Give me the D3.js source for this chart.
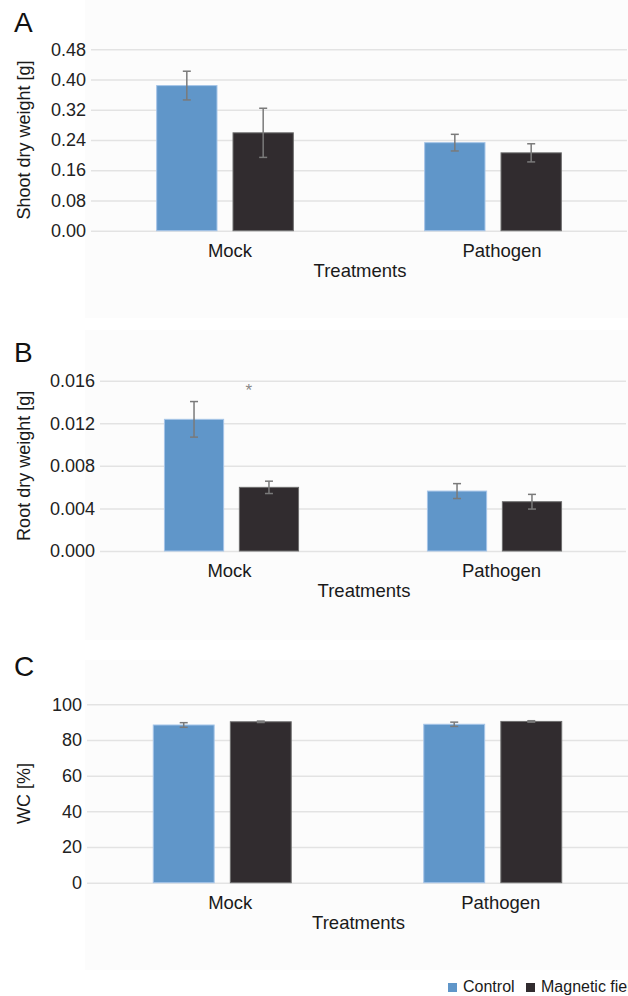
<!DOCTYPE html>
<html>
<head>
<meta charset="utf-8">
<script src="https://cdn.jsdelivr.net/npm/d3@7"></script>
<style>
  html, body { margin: 0; padding: 0; background: #fff; }
  svg { display: block; font-family: Arial, "Liberation Sans", sans-serif; }
</style>
</head>
<body>
<svg id="chart"></svg>
<script>
// data
const treatments = ['Mock', 'Pathogen'];
const groups = ['Control', 'Magnetic field'];

const shootMean = [[0.384, 0.259], [0.233, 0.206]];
const shootErr = [[0.038, 0.065], [0.022, 0.024]];
const shootTicks = [0, 0.08, 0.16, 0.24, 0.32, 0.40, 0.48];

const rootMean = [[0.01237, 0.00598], [0.00563, 0.00463]];
const rootErr = [[0.00167, 0.00058], [0.0007, 0.00069]];
const rootTicks = [0, 0.004, 0.008, 0.012, 0.016];

const wcMean = [[88.4, 90.2], [88.8, 90.4]];
const wcErr = [[1.3, 0.4], [1.2, 0.4]];
const wcTicks = [0, 20, 40, 60, 80, 100];

// significance marks: panel B, Mock, Magnetic field
const rootStars = [{ treatment: 'Mock', value: 0.0155, label: '*' }];

const colors = { 'Control': '#6096c9', 'Magnetic field': '#312c2f' };
const strokes = { 'Control': '#a6c5e8', 'Magnetic field': '#6e6e6e' };

const width = 628, height = 996;
const svg = d3.select('#chart').attr('width', width).attr('height', height);

// panel layouts (pixel boxes of each plot area)
const panels = [
  { letter: 'A', letterY: 32, left: 91, right: 627, top: 49.3, bottom: 230.7, bgTop: 0, bgBottom: 318,
    mean: shootMean, err: shootErr, ticks: shootTicks, fmt: d3.format('.2f'), labelShift: [5, 9],
    ylabel: 'Shoot dry weight [g]', stars: [] },
  { letter: 'B', letterY: 361.5, left: 100, right: 626, top: 380.7, bottom: 551, bgTop: 330, bgBottom: 640,
    mean: rootMean, err: rootErr, ticks: rootTicks, fmt: d3.format('.3f'), labelShift: [-2, 7],
    ylabel: 'Root dry weight [g]', stars: rootStars },
  { letter: 'C', letterY: 675.5, left: 87, right: 628, top: 704.3, bottom: 882.7, bgTop: 660, bgBottom: 970,
    mean: wcMean, err: wcErr, ticks: wcTicks, fmt: d3.format('d'), labelShift: [8, 8],
    ylabel: 'WC [%]', stars: [] }
];

panels.forEach(p => drawPanel(p));
drawLegend();

function drawPanel(p) {
  const g = svg.append('g');

  // faint plot-area background
  g.append('rect')
    .attr('x', 85).attr('y', p.bgTop)
    .attr('width', width - 85).attr('height', p.bgBottom - p.bgTop)
    .attr('fill', '#fcfcfc');

  const x = d3.scaleBand()
    .domain(treatments)
    .range([p.left, p.right])
    .paddingInner(0.49)
    .paddingOuter(0.245);

  const xSub = d3.scaleBand()
    .domain(groups)
    .range([0, x.bandwidth()])
    .paddingInner(0.21);

  const y = d3.scaleLinear()
    .domain([0, d3.max(p.ticks)])
    .range([p.bottom, p.top]);

  // gridlines + tick labels
  const yAxis = g.append('g')
    .attr('transform', `translate(${p.left},0)`)
    .call(d3.axisLeft(y).tickValues(p.ticks).tickFormat(p.fmt).tickSize(0).tickPadding(5));
  yAxis.select('.domain').remove();
  yAxis.selectAll('.tick line')
    .attr('x2', p.right - p.left)
    .attr('stroke', '#e3e3e3')
    .attr('stroke-width', 1.5);
  yAxis.selectAll('.tick text')
    .attr('fill', '#222')
    .style('font-size', '18px');

  // bars
  const rows = [];
  treatments.forEach((t, i) => groups.forEach((s, j) => {
    rows.push({ treatment: t, group: s, value: p.mean[i][j], err: p.err[i][j] });
  }));

  g.selectAll('rect.bar')
    .data(rows)
    .join('rect')
    .attr('class', 'bar')
    .attr('x', d => x(d.treatment) + xSub(d.group))
    .attr('y', d => y(d.value))
    .attr('width', xSub.bandwidth())
    .attr('height', d => y(0) - y(d.value))
    .attr('fill', d => colors[d.group])
    .attr('stroke', d => strokes[d.group])
    .attr('stroke-width', 1);

  // error bars
  const eb = g.selectAll('g.err')
    .data(rows)
    .join('g')
    .attr('class', 'err')
    .attr('stroke', '#7a7a7a')
    .attr('stroke-width', 1.5)
    .attr('transform', d => `translate(${x(d.treatment) + xSub(d.group) + xSub.bandwidth() / 2},0)`);
  eb.append('line')
    .attr('y1', d => y(d.value + d.err)).attr('y2', d => y(d.value - d.err));
  eb.append('line')
    .attr('x1', -4).attr('x2', 4)
    .attr('y1', d => y(d.value + d.err)).attr('y2', d => y(d.value + d.err));
  eb.append('line')
    .attr('x1', -4).attr('x2', 4)
    .attr('y1', d => y(d.value - d.err)).attr('y2', d => y(d.value - d.err));

  // significance stars
  g.selectAll('text.star')
    .data(p.stars)
    .join('text')
    .attr('class', 'star')
    .attr('x', d => x(d.treatment) + x.bandwidth() * 0.63)
    .attr('y', d => y(d.value) + 10)
    .attr('text-anchor', 'middle')
    .attr('fill', '#888')
    .style('font-size', '17px')
    .text(d => d.label);

  // category labels
  g.selectAll('text.cat')
    .data(treatments)
    .join('text')
    .attr('class', 'cat')
    .attr('x', (d, i) => x(d) + x.bandwidth() / 2 + p.labelShift[i])
    .attr('y', p.bottom + 26)
    .attr('text-anchor', 'middle')
    .attr('fill', '#1a1a1a')
    .style('font-size', '18.5px')
    .text(d => d);

  g.append('text')
    .attr('x', (p.left + p.right) / 2 + 1)
    .attr('y', p.bottom + 46)
    .attr('text-anchor', 'middle')
    .attr('fill', '#1a1a1a')
    .style('font-size', '18.5px')
    .text('Treatments');

  // y label
  g.append('text')
    .attr('transform', `translate(29.5,${(p.top + p.bottom) / 2}) rotate(-90)`)
    .attr('text-anchor', 'middle')
    .attr('fill', '#1a1a1a')
    .style('font-size', '18px')
    .text(p.ylabel);

  // panel letter
  g.append('text')
    .attr('x', 14)
    .attr('y', p.letterY)
    .attr('fill', '#111')
    .style('font-size', '28px')
    .text(p.letter);
}

function drawLegend() {
  const items = [
    { name: 'Control', x: 448 },
    { name: 'Magnetic field', x: 526 }
  ];
  const lg = svg.append('g');
  items.forEach(it => {
    lg.append('rect')
      .attr('x', it.x).attr('y', 983)
      .attr('width', 9).attr('height', 9)
      .attr('fill', colors[it.name]);
    lg.append('text')
      .attr('x', it.x + 15)
      .attr('y', 991.5)
      .attr('fill', '#1a1a1a')
      .style('font-size', '16px')
      .text(it.name);
  });
}
</script>
</body>
</html>
